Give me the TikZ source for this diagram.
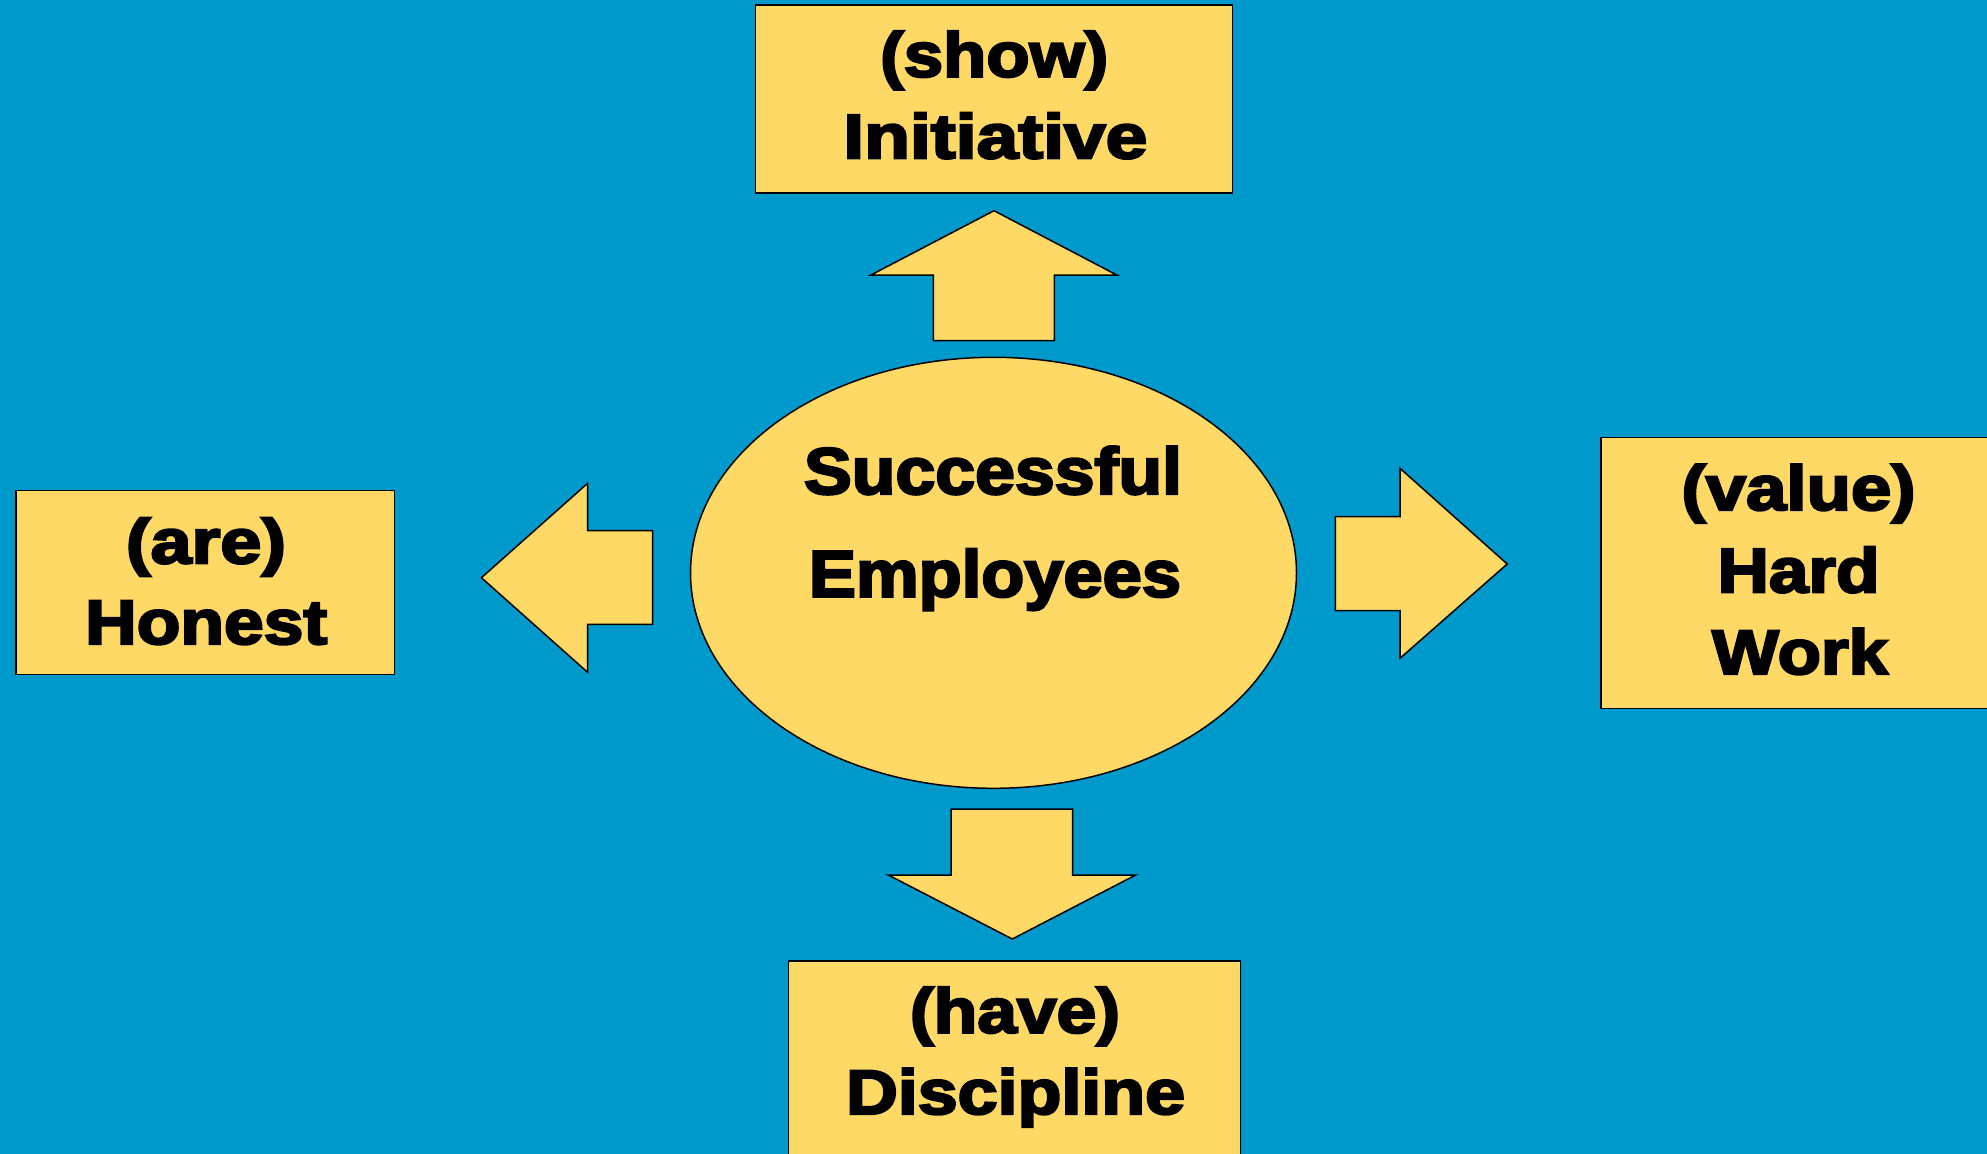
\documentclass[tikz,border=0pt]{standalone}
\usepackage{fontspec}
\usepackage{graphicx}
\setmainfont{Liberation Sans}
\newfontfamily\heavy{Liberation Sans}[BoldFeatures={FakeBold=3.5}]
\usetikzlibrary{shapes.geometric}
\definecolor{bg}{RGB}{0,153,204}
\definecolor{gold}{RGB}{255,217,102}
\tikzset{
  box/.style={draw=black, fill=gold, line width=1.5pt, rectangle, inner sep=0pt},
  oval/.style={draw=black, fill=gold, line width=1.5pt, ellipse, inner sep=0pt},
  blockarrow/.style={draw=black, fill=gold, line width=1.5pt, line join=miter},
  lbl/.style={anchor=base, inner sep=0pt, font=\heavy\bfseries\fontsize{63}{63}\selectfont},
  biglbl/.style={anchor=base, inner sep=0pt, font=\heavy\bfseries\fontsize{66}{66}\selectfont},
}
\newcommand{\fitw}[2]{\resizebox{#1pt}{\height}{#2}}
\begin{document}
\begin{tikzpicture}[x=1pt,y=-1pt]
\fill[bg] (0,0) rectangle (1987,1154);
\useasboundingbox (0,0) rectangle (1987,1154);

% boxes
\node[box, minimum width=476.6pt, minimum height=188pt] (topbox) at (994,99) {};
\node[box, minimum width=378.6pt, minimum height=183.6pt] (leftbox) at (205.3,582.5) {};
\node[box, minimum width=397.2pt, minimum height=270.6pt] (rightbox) at (1799.4,573) {};
\node[box, minimum width=452.4pt, minimum height=204pt] (bottombox) at (1014.5,1063) {};
\node[oval, minimum width=606pt, minimum height=431pt] (center) at (993.5,572.8) {};

% block arrows
\draw[blockarrow] (994,210.7) -- (1116.7,275) -- (1054.3,275) -- (1054.3,340.7)
  -- (933.3,340.7) -- (933.3,275) -- (871,275) -- cycle;
\draw[blockarrow] (481.4,577.7) -- (587.6,483.3) -- (587.6,530.7) -- (652.7,530.7)
  -- (652.7,624.3) -- (587.6,624.3) -- (587.6,672.3) -- cycle;
\draw[blockarrow] (1507.2,564) -- (1400,468.3) -- (1400,516.7) -- (1335.3,516.7)
  -- (1335.3,610.7) -- (1400,610.7) -- (1400,658.3) -- cycle;
\draw[blockarrow] (1012.3,939) -- (888.3,875) -- (951,875) -- (951,809)
  -- (1072.7,809) -- (1072.7,875) -- (1135.7,875) -- cycle;

% labels
\node[lbl] (t1) at (994.2,76.7) {\fitw{228}{(show)}};
\node[lbl] (t2) at (995.3,158.3) {\fitw{304}{Initiative}};
\node[biglbl] (c1) at (993,494) {\fitw{378}{Successful}};
\node[biglbl] (c2) at (995,596.7) {\fitw{372}{Employees}};
\node[lbl] (l1) at (206,563.3) {\fitw{160}{(are)}};
\node[lbl] (l2) at (206.2,644) {\fitw{242}{Honest}};
\node[lbl] (r1) at (1798.5,510) {\fitw{234}{(value)}};
\node[lbl] (r2) at (1798.5,592.3) {\fitw{162}{Hard}};
\node[lbl] (r3) at (1800,674) {\fitw{176}{Work}};
\node[lbl] (b1) at (1015,1032.7) {\fitw{210}{(have)}};
\node[lbl] (b2) at (1015.5,1114) {\fitw{339}{Discipline}};
\end{tikzpicture}
\end{document}
